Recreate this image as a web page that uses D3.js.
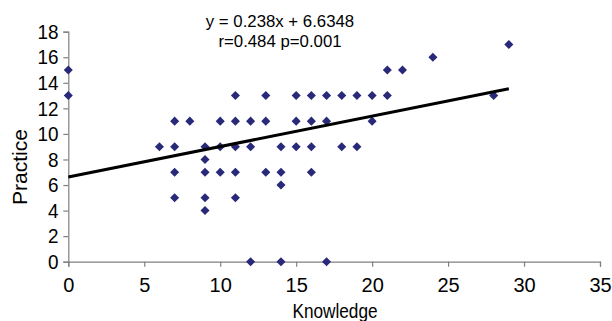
<!DOCTYPE html>
<html>
<head>
<meta charset="utf-8">
<script src="https://cdn.jsdelivr.net/npm/d3@7"></script>
<style>
  body { margin: 0; background: #fff; }
  text { font-family: "Liberation Sans", Arial, sans-serif; fill: #000; }
</style>
</head>
<body>
<div id="chart"></div>
<script>
// scatter data: knowledge score vs practice score
const knowledge = [0, 0, 6, 7, 7, 7, 7, 8, 9, 9, 9, 9, 9, 10, 10, 10,
  11, 11, 11, 11, 11, 12, 12, 12, 13, 13, 13, 14, 14, 14, 14,
  15, 15, 15, 16, 16, 16, 16, 17, 17, 17, 18, 18, 19, 19, 20, 20,
  21, 21, 22, 24, 28, 29];
const practice = [15, 13, 9, 11, 9, 7, 5, 11, 9, 8, 7, 5, 4, 11, 9, 7,
  13, 11, 9, 7, 5, 11, 9, 0, 13, 11, 7, 9, 7, 6, 0,
  13, 11, 9, 13, 11, 9, 7, 13, 11, 0, 13, 9, 13, 9, 13, 11,
  15, 13, 15, 16, 13, 17];

// linear trend shown on the chart
const slope = 0.238;
const intercept = 6.6348;
const equationLines = ["y = 0.238x + 6.6348", "r=0.484 p=0.001"];

const xTicks = [0, 5, 10, 15, 20, 25, 30, 35];
const yTicks = [0, 2, 4, 6, 8, 10, 12, 14, 16, 18];
const xTitle = "Knowledge";
const yTitle = "Practice";

const width = 612;
const height = 321;
const margin = { top: 31.7, right: 12, bottom: 59.3, left: 68.3 };

const svg = d3.select("#chart")
  .append("svg")
  .attr("width", width)
  .attr("height", height);

const x = d3.scaleLinear()
  .domain([0, 35])
  .range([margin.left, width - margin.right]);
const y = d3.scaleLinear()
  .domain([0, 18])
  .range([height - margin.bottom, margin.top]);

const axisColor = "#808080";

// x axis
const gx = svg.append("g")
  .attr("transform", `translate(0,${y(0)})`)
  .call(d3.axisBottom(x).tickValues(xTicks).tickSize(5).tickPadding(11));
gx.selectAll("text")
  .attr("font-size", 20)
  .attr("fill", "#000");

// y axis
const gy = svg.append("g")
  .attr("transform", `translate(${x(0)},0)`)
  .call(d3.axisLeft(y).tickValues(yTicks).tickSize(5).tickPadding(6));
gy.selectAll("text")
  .attr("font-size", 21)
  .attr("fill", "#000")
  .attr("transform", "scale(0.9,1)");

svg.selectAll(".domain, .tick line")
  .attr("stroke", axisColor)
  .attr("stroke-width", 1.2);

// points, as diamonds
const points = knowledge.map((k, i) => ({ k: k, p: practice[i] }));
svg.append("g")
  .selectAll("path")
  .data(points)
  .enter()
  .append("path")
  .attr("d", d3.symbol().type(d3.symbolSquare).size(41))
  .attr("transform", d => `translate(${x(d.k)},${y(d.p)}) rotate(45)`)
  .attr("fill", "#29297a");

// trend line from 0 to the largest knowledge value
const xMax = d3.max(knowledge);
svg.append("line")
  .attr("x1", x(0))
  .attr("y1", y(intercept))
  .attr("x2", x(xMax))
  .attr("y2", y(intercept + slope * xMax))
  .attr("stroke", "#000")
  .attr("stroke-width", 3);

// equation label
svg.append("g")
  .selectAll("text")
  .data(equationLines)
  .enter()
  .append("text")
  .attr("x", 280)
  .attr("y", (d, i) => 27.3 + i * 19.5)
  .attr("text-anchor", "middle")
  .attr("font-size", 16.8)
  .text(d => d);

// axis titles
svg.append("text")
  .attr("transform", `translate(335,318) scale(0.82,1)`)
  .attr("text-anchor", "middle")
  .attr("font-size", 21)
  .text(xTitle);

svg.append("text")
  .attr("transform", `translate(27,167) rotate(-90)`)
  .attr("text-anchor", "middle")
  .attr("font-size", 21)
  .text(yTitle);
</script>
</body>
</html>
